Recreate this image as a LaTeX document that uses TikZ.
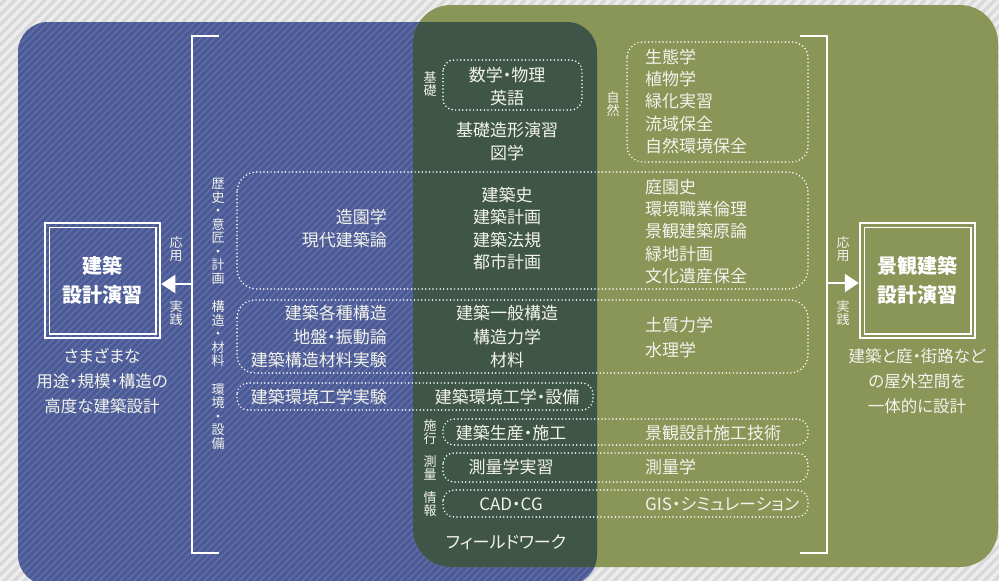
\documentclass[tikz,border=0pt]{standalone}
\usepackage{fontspec}
\setmainfont{Noto Sans CJK JP}[RawFeature=+palt]
\usetikzlibrary{arrows.meta}
\definecolor{bgc}{HTML}{D9D9D9}
\definecolor{bgstr}{HTML}{EDEDED}
\definecolor{bluec}{HTML}{4B5A95}
\definecolor{bluestr}{HTML}{6271AA}
\definecolor{greenc}{HTML}{8A9558}
\definecolor{darkc}{HTML}{3E5548}
\definecolor{txtc}{HTML}{F3F3EC}
\begin{document}
\begin{tikzpicture}[x=1pt,y=-1pt,
  txt/.style={text=txtc, font=\fontsize{17}{22.5}\selectfont, inner sep=0pt},
  captxt/.style={text=txtc, font=\fontsize{16.5}{25}\selectfont, inner sep=0pt, align=center},
  vlab/.style={text=txtc, font=\fontsize{13}{13.5}\selectfont, inner sep=0pt, align=center},
  ttl/.style={text=white, font=\fontsize{20}{29}\selectfont\bfseries, align=center, draw=white, line width=2.5pt, minimum width=115pt, minimum height=115pt, inner sep=0pt},
  dbox/.style={draw=white, line width=1.7pt, dash pattern=on 0pt off 3.6pt, line cap=round},
  wline/.style={draw=white, line width=2.4pt},
  arr/.style={wline, -{Triangle[length=14pt,width=18pt]}}
]
\useasboundingbox (0,0) rectangle (999,581);
% background
\fill[bgc] (0,0) rectangle (999,581);
\begin{scope}
  \clip (0,0) rectangle (999,581);
  \foreach \i in {-620,-610,...,1000} \draw[bgstr, line width=3.5pt] (\i,600) -- ++(620,-620);
\end{scope}
% blue area
\fill[bluec, rounded corners=30] (18,22) rectangle (597,585);
\begin{scope}
  \clip[rounded corners=30] (18,22) rectangle (597,585);
  \foreach \i in {-620,-613,...,620} \draw[bluestr, line width=1.1pt] (\i,600) -- ++(620,-620);
\end{scope}
% green area
\fill[greenc, rounded corners=38] (413,5) rectangle (998,567);
% overlap
\begin{scope}
  \clip[rounded corners=30] (18,22) rectangle (597,585);
  \fill[darkc, rounded corners=38] (413,5) rectangle (998,567);
\end{scope}

% brackets
\coordinate (lt) at (219,36); \coordinate (ltc) at (192,36);
\coordinate (lbc) at (192,553); \coordinate (lbt) at (219,553);
\coordinate (lm) at (192,284);
\draw[wline] (lt) -- (ltc) -- (lbc) -- (lbt);
\coordinate (rt) at (800,36); \coordinate (rtc) at (827,36);
\coordinate (rbc) at (827,553); \coordinate (rbt) at (800,553);
\coordinate (rm) at (827,283);
\draw[wline] (rt) -- (rtc) -- (rbc) -- (rbt);

% title boxes
\node[ttl] (lbox) at (102.5,280.5) {建築\\設計演習};
\draw[white, line width=1.5pt] ([shift={(5.5,5.5)}]lbox.north west) rectangle ([shift={(-5.5,-5.5)}]lbox.south east);
\node[ttl] (rbox) at (917.5,280.5) {景観建築\\設計演習};
\draw[white, line width=1.5pt] ([shift={(5.5,5.5)}]rbox.north west) rectangle ([shift={(-5.5,-5.5)}]rbox.south east);

\draw[arr] (lm) -- (lbox.east |- lm);
\draw[arr] (rm) -- (rbox.west |- rm);

\node[vlab] (la1) at (176,249) {応\\用};
\node[vlab] (la2) at (176,313) {実\\践};
\node[vlab] (ra1) at (843,249) {応\\用};
\node[vlab] (ra2) at (843,313) {実\\践};

\node[captxt] (lcap) at (102,381) {さまざまな\\用途・規模・構造の\\高度な建築設計};
\node[captxt] (rcap) at (917,381) {建築と庭・街路など\\の屋外空間を\\一体的に設計};

% dotted boxes
\draw[dbox, rounded corners=11] (443,60) rectangle (582,110);
\draw[dbox, rounded corners=16] (627,42) rectangle (808,162);
\draw[dbox, rounded corners=20] (237,172) rectangle (808,289);
\draw[dbox, rounded corners=18] (237,300) rectangle (808,373);
\draw[dbox, rounded corners=11] (237,383) rectangle (593,410);
\draw[dbox, rounded corners=11] (443,419) rectangle (808,445);
\draw[dbox, rounded corners=11] (443,453) rectangle (808,482);
\draw[dbox, rounded corners=11] (443,490) rectangle (808,517);

% category labels
\node[vlab] (k1) at (430,84) {基\\礎};
\node[vlab] (k2) at (613,104) {自\\然};
\node[vlab] (k3) at (218,231.5) {歴\\史\\・\\意\\匠\\・\\計\\画};
\node[vlab] (k4) at (218,334) {構\\造\\・\\材\\料};
\node[vlab] (k5) at (218,416.5) {環\\境\\・\\設\\備};
\node[vlab] (k6) at (430,432) {施\\行};
\node[vlab] (k7) at (430,468) {測\\量};
\node[vlab] (k8) at (430,504) {情\\報};

% centre column
\node[txt, align=center] (c1) at (507,86.5) {数学・物理\\英語};
\node[txt, align=center] (c2) at (507,141.5) {基礎造形演習\\図学};
\node[txt, align=center] (c3) at (507,228.5) {建築史\\建築計画\\建築法規\\都市計画};
\node[txt, align=center, font=\fontsize{17}{23.5}\selectfont] (c4) at (507,336.5) {建築一般構造\\構造力学\\材料};
\node[txt] (c5) at (507,397) {建築環境工学・設備};
\node[txt] (c6) at (511,433) {建築生産・施工};
\node[txt] (c7) at (511,467) {測量学実習};
\node[txt] (c8) at (511,504) {CAD・CG};
\node[txt] (c9) at (506,542) {フィールドワーク};

% left column
\node[txt, align=right, anchor=east] (l1) at (387,228.5) {造園学\\現代建築論};
\node[txt, align=right, anchor=east, font=\fontsize{17}{23.5}\selectfont] (l2) at (387,336.5) {建築各種構造\\地盤・振動論\\建築構造材料実験};
\node[txt, anchor=east] (l3) at (387,397) {建築環境工学実験};

% right column
\node[txt, align=left, anchor=west, font=\fontsize{17}{22.25}\selectfont] (r1) at (645,101.5) {生態学\\植物学\\緑化実習\\流域保全\\自然環境保全};
\node[txt, align=left, anchor=west, font=\fontsize{17}{22.25}\selectfont] (r2) at (645,231.5) {庭園史\\環境職業倫理\\景観建築原論\\緑地計画\\文化遺産保全};
\node[txt, align=left, anchor=west, font=\fontsize{17}{25}\selectfont] (r3) at (645,337.5) {土質力学\\水理学};
\node[txt, anchor=west] (r4) at (645,433) {景観設計施工技術};
\node[txt, anchor=west] (r5) at (645,467) {測量学};
\node[txt, anchor=west] (r6) at (645,504) {GIS・シミュレーション};
\end{tikzpicture}
\end{document}
